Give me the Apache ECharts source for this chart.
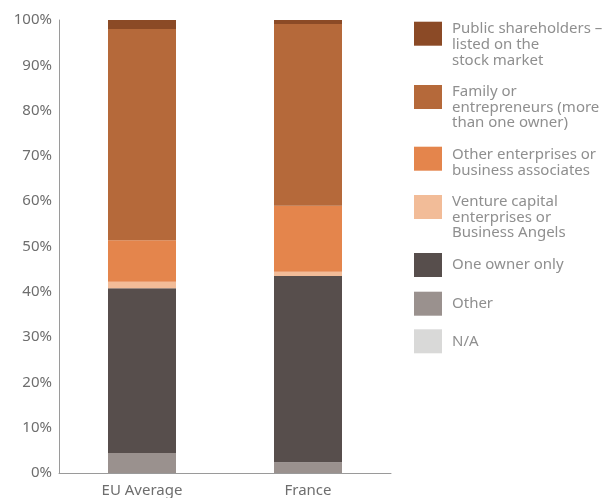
<!DOCTYPE html>
<html>
<head>
<meta charset="utf-8">
<script src="https://cdn.jsdelivr.net/npm/echarts@6/dist/echarts.min.js"></script>
<style>html,body{margin:0;padding:0;background:#fff}#c{width:614px;height:498px}</style>
</head>
<body>
<div id="c"></div>
<script>
const categories = ['EU Average', 'France'];
const seriesNames = ['Other', 'One owner only', 'Venture capital enterprises or Business Angels', 'Other enterprises or business associates', 'Family or entrepreneurs (more than one owner)', 'Public shareholders – listed on the stock market', 'N/A'];
const otherVals = [4.4, 2.4];
const oneOwnerVals = [36.4, 41.1];
const ventureVals = [1.4, 0.9];
const otherEntVals = [9.2, 14.6];
const familyVals = [46.6, 40.1];
const publicVals = [2.0, 0.9];
const naVals = [0, 0];
const yTicks = [0, 10, 20, 30, 40, 50, 60, 70, 80, 90, 100];

const colors = ['#9A918E', '#574E4C', '#F2BC98', '#E4854C', '#B5693A', '#8B4A26', '#D9D9D8'];
const values = [otherVals, oneOwnerVals, ventureVals, otherEntVals, familyVals, publicVals, naVals];

const legendLines = {
  'Public shareholders – listed on the stock market': ['Public shareholders –', 'listed on the', 'stock market'],
  'Family or entrepreneurs (more than one owner)': ['Family or', 'entrepreneurs (more', 'than one owner)'],
  'Other enterprises or business associates': ['Other enterprises or', 'business associates'],
  'Venture capital enterprises or Business Angels': ['Venture capital', 'enterprises or', 'Business Angels'],
  'One owner only': ['One owner only'],
  'Other': ['Other'],
  'N/A': ['N/A']
};
// [series index, swatch top, first-line centre offset from swatch top]
const legendOrder = [
  [5, 21.7, 7.3], [4, 85, 6.7], [3, 146.7, 8.3], [2, 195, 6.7], [1, 253, 12], [0, 291.7, 12], [6, 329.3, 12]
];
const FONT = 'Noto Sans';
const L = 15.7;
const IH = 24;
const legends = legendOrder.map(([idx, swTop, target]) => {
  const lines = legendLines[seriesNames[idx]];
  const n = lines.length;
  const s = n > 1 ? 2 * (target - IH / 2) + (n - 1) * L : 0;
  const boxTop = n > 1 ? Math.min(0, IH / 2 - (s + n * L) / 2) : 0;
  const rich = { t: { fontFamily: FONT, fontSize: 15, color: '#8f8f8f', lineHeight: L }, s: { fontSize: 2, lineHeight: s } };
  return {
    data: [seriesNames[idx]],
    left: 414, top: swTop + boxTop, padding: 0,
    orient: 'vertical',
    itemWidth: 28, itemHeight: IH,
    icon: 'rect',
    selectedMode: false,
    formatter: name => (n > 1 ? '{s| }\n' : '') + lines.map(l => '{t|' + l + '}').join('\n'),
    textStyle: { fontFamily: FONT, fontSize: 15, color: '#8f8f8f', lineHeight: L, padding: [0, 0, 0, 5], rich: rich }
  };
});

const chart = echarts.init(document.getElementById('c'), null, { renderer: 'canvas' });
chart.setOption({
  animation: false,
  color: colors,
  legend: legends,
  grid: { left: 59, right: 223, top: 20, bottom: 25, containLabel: false },
  xAxis: {
    type: 'category', data: categories,
    axisLine: { lineStyle: { color: '#9a9a9a', width: 1 } },
    axisTick: { show: false },
    axisLabel: { fontFamily: FONT, fontSize: 15, color: '#6e6e6e', margin: 10 }
  },
  yAxis: {
    type: 'value', min: yTicks[0], max: yTicks[yTicks.length - 1], interval: 10,
    axisLine: { show: true, lineStyle: { color: '#9a9a9a', width: 1 } },
    axisTick: { show: false },
    splitLine: { show: false },
    axisLabel: { fontFamily: FONT, fontSize: 15, color: '#6e6e6e', margin: 7, formatter: '{value}%' }
  },
  series: seriesNames.map((name, i) => ({
    name: name, type: 'bar', stack: 'total', barWidth: 68,
    itemStyle: { color: colors[i] },
    data: values[i]
  }))
});
</script>
</body>
</html>
